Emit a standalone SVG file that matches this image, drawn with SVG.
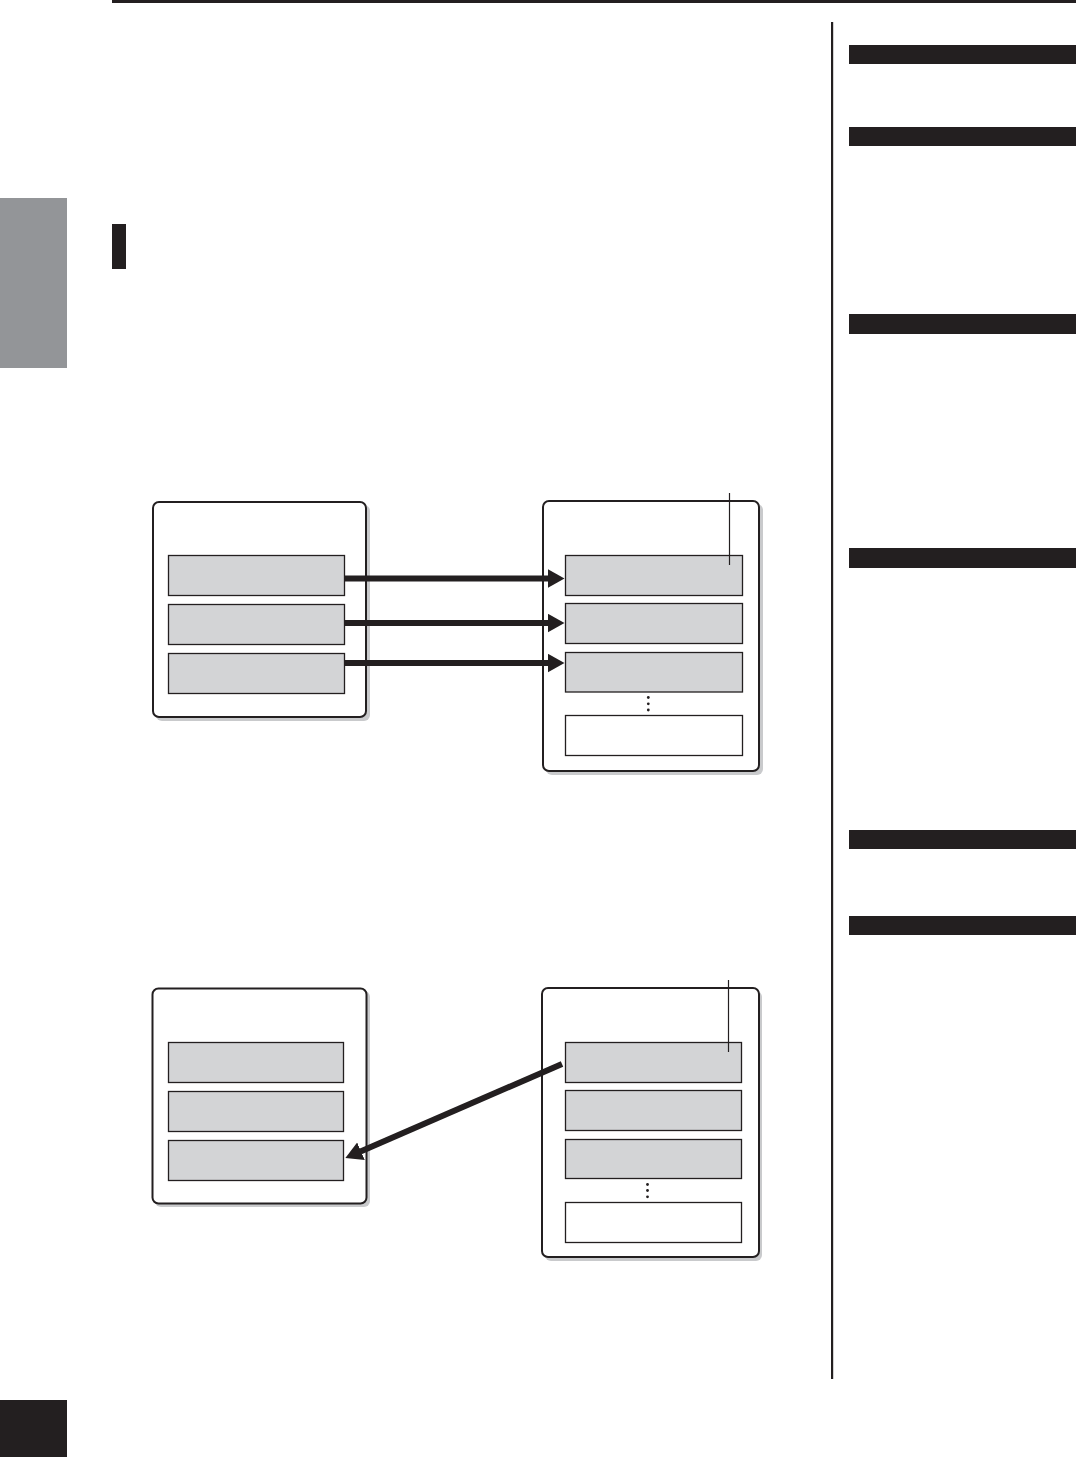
<svg xmlns="http://www.w3.org/2000/svg" width="1076" height="1457" viewBox="0 0 1076 1457">
<style>
.bg{fill:#ffffff}
.blk{fill:#231f20}
.frame{fill:#ffffff;stroke:#231f20;stroke-width:2}
.shadow{fill:#c9cacc}
.slot{fill:#d3d4d6;stroke:#231f20;stroke-width:1.3}
.slotw{fill:#ffffff;stroke:#231f20;stroke-width:1.3}
.lead{stroke:#231f20;stroke-width:1.2;fill:none}
.arrow{stroke:#231f20;stroke-width:6;fill:none;marker-end:url(#ah)}
</style>
<defs>
<marker id="ah" markerUnits="userSpaceOnUse" markerWidth="18" markerHeight="20" refX="0.5" refY="9.5" orient="auto" viewBox="0 0 18 20">
<path d="M0,0 L17,9.5 L0,19 Z" fill="#231f20"/>
</marker>
</defs>
<rect class="bg" x="0" y="0" width="1076" height="1457"/>
<g id="page">
<rect class="blk" x="112" y="0" width="964" height="3"/>
<rect x="0" y="198" width="67" height="170" fill="#939598"/>
<rect class="blk" x="112" y="224" width="14" height="45"/>
<rect class="blk" x="0" y="1400" width="67" height="57"/>
<rect class="blk" x="831" y="22" width="2.2" height="1357"/>
<rect class="blk" x="849" y="45" width="227" height="19"/>
<rect class="blk" x="849" y="127" width="227" height="19"/>
<rect class="blk" x="849" y="314" width="227" height="20"/>
<rect class="blk" x="849" y="548" width="227" height="20"/>
<rect class="blk" x="849" y="830" width="227" height="19"/>
<rect class="blk" x="849" y="916" width="227" height="19"/>
</g>
<g id="d1-left">
<rect class="shadow" x="156" y="505" width="214" height="216" rx="6"/>
<rect class="frame" x="153" y="502" width="213" height="215" rx="6"/>
<rect class="slot" x="168.5" y="555.5" width="176" height="40"/>
<rect class="slot" x="168.5" y="604.5" width="176" height="40"/>
<rect class="slot" x="168.5" y="653.5" width="176" height="40"/>
</g>
<g id="d1-right">
<rect class="shadow" x="546" y="504" width="217" height="271" rx="6"/>
<rect class="frame" x="543" y="501" width="216" height="270" rx="6"/>
<rect class="slot" x="565.5" y="555.5" width="177" height="40"/>
<rect class="slot" x="565.5" y="603.5" width="177" height="40"/>
<rect class="slot" x="565.5" y="652.5" width="177" height="39.5"/>
<rect class="slotw" x="565.5" y="715.5" width="177" height="40"/>
<circle cx="648.3" cy="697.5" r="1.4" fill="#231f20"/>
<circle cx="648.3" cy="703.8" r="1.4" fill="#231f20"/>
<circle cx="648.3" cy="710" r="1.4" fill="#231f20"/>
<line class="lead" x1="729.5" y1="493" x2="729.5" y2="565"/>
</g>
<g id="d2-left">
<rect class="shadow" x="155" y="991" width="215" height="216" rx="6"/>
<rect class="frame" x="152.5" y="988.5" width="214" height="215" rx="6"/>
<rect class="slot" x="168.5" y="1042.5" width="175" height="40"/>
<rect class="slot" x="168.5" y="1091.5" width="175" height="40"/>
<rect class="slot" x="168.5" y="1140.5" width="175" height="40"/>
</g>
<g id="d2-right">
<rect class="shadow" x="545" y="991" width="217" height="270" rx="6"/>
<rect class="frame" x="542" y="988" width="217" height="269" rx="6"/>
<rect class="slot" x="565.5" y="1042.5" width="176" height="40"/>
<rect class="slot" x="565.5" y="1090.5" width="176" height="40"/>
<rect class="slot" x="565.5" y="1139.5" width="176" height="39"/>
<rect class="slotw" x="565.5" y="1202.5" width="176" height="40"/>
<circle cx="647.5" cy="1184.5" r="1.4" fill="#231f20"/>
<circle cx="647.5" cy="1190.5" r="1.4" fill="#231f20"/>
<circle cx="647.5" cy="1196.8" r="1.4" fill="#231f20"/>
<line class="lead" x1="728.5" y1="980" x2="728.5" y2="1052"/>
</g>
<g id="connectors">
<line class="arrow" x1="344" y1="578.5" x2="548" y2="578.5"/>
<line class="arrow" x1="344" y1="623" x2="548" y2="623"/>
<line class="arrow" x1="344" y1="663" x2="548" y2="663"/>
<line class="arrow" x1="562" y1="1064" x2="360.5" y2="1151.5"/>
</g>
</svg>
